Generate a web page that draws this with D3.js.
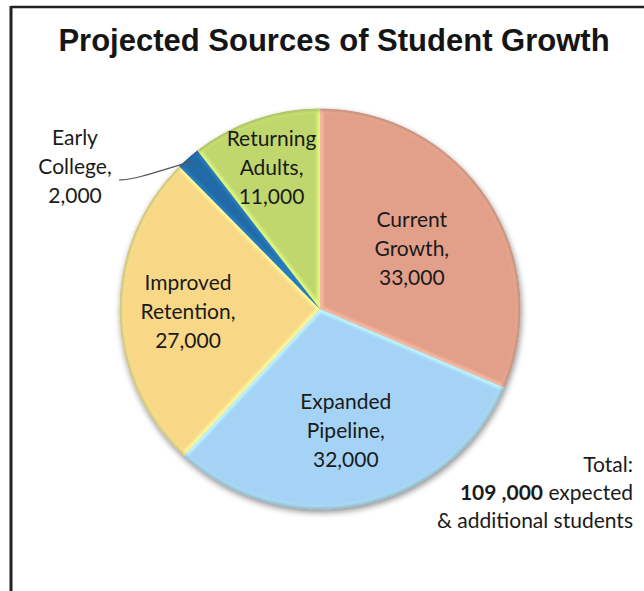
<!DOCTYPE html>
<html>
<head>
<meta charset="utf-8">
<script src="https://cdn.jsdelivr.net/npm/d3@7"></script>
<style>
  html, body { margin: 0; padding: 0; background: #fff; }
  svg { display: block; }
</style>
</head>
<body>
<svg id="chart" width="644" height="591"></svg>
<script>
// Sources of projected student growth, drawn clockwise from 12 o'clock
const categories = ["Current Growth", "Expanded Pipeline", "Improved Retention", "Early College", "Returning Adults"];
const labelLines = [["Current", "Growth,"], ["Expanded", "Pipeline,"], ["Improved", "Retention,"], ["Early", "College,"], ["Returning", "Adults,"]];
const values = [33000, 32000, 27000, 2000, 11000];
const colors = ["#E2A08A", "#A4D3F5", "#F8D887", "#216BA6", "#C0D76E"];
const totalValue = 109000;

const svg = d3.select("#chart");
const W = 644, H = 591;
const cx = 320, cy = 309, R = 200;
const fmt = d3.format(",");
const labelFont = "Lato, 'Open Sans', sans-serif";
const labelSize = 21;
const lineH = 29;
// how far out (fraction of the radius) each inside label sits, so it fits its slice
const labelRadius = [0.55, 0.62, 0.66, 0, 0.75];

const defs = svg.append("defs");

// soft shadow beneath the pie
const shadow = defs.append("filter").attr("id", "pieShadow")
  .attr("x", "-20%").attr("y", "-20%").attr("width", "140%").attr("height", "140%");
shadow.append("feGaussianBlur").attr("in", "SourceAlpha").attr("stdDeviation", 3).attr("result", "b");
shadow.append("feOffset").attr("in", "b").attr("dx", 1).attr("dy", 3).attr("result", "o");
shadow.append("feComponentTransfer").attr("in", "o").attr("result", "s")
  .append("feFuncA").attr("type", "linear").attr("slope", 0.45);
const m = shadow.append("feMerge");
m.append("feMergeNode").attr("in", "s");
m.append("feMergeNode").attr("in", "SourceGraphic");

// blur used for the rounded-bevel edge highlight
defs.append("filter").attr("id", "edgeBlur")
  .append("feGaussianBlur").attr("stdDeviation", 1.4);

// frame lines along the top and left
svg.append("line").attr("x1", 11).attr("y1", 7).attr("x2", W).attr("y2", 7)
  .attr("stroke", "#222").attr("stroke-width", 2.5);
svg.append("line").attr("x1", 11).attr("y1", 6).attr("x2", 11).attr("y2", H)
  .attr("stroke", "#222").attr("stroke-width", 3);

// title
svg.append("text")
  .attr("x", 334).attr("y", 51)
  .attr("text-anchor", "middle")
  .attr("font-family", "'Liberation Sans', Arial, sans-serif")
  .attr("font-weight", "bold")
  .attr("font-size", 31)
  .attr("fill", "#151515")
  .text("Projected Sources of Student Growth");

const pie = d3.pie().sort(null).value(d => d)(values);
const arc = d3.arc().innerRadius(0).outerRadius(R);

const g = svg.append("g").attr("transform", `translate(${cx},${cy})`);

const slices = g.append("g").attr("filter", "url(#pieShadow)");
slices.selectAll("path.slice")
  .data(pie)
  .join("path")
  .attr("class", "slice")
  .attr("d", arc)
  .attr("fill", (d, i) => colors[i])
  .attr("stroke", (d, i) => d3.color(colors[i]).darker(0.6))
  .attr("stroke-width", 0.8);

// bevel: lighter rim inside each slice, darker at the outer edge
pie.forEach((d, i) => {
  defs.append("clipPath").attr("id", "clip" + i)
    .append("path").attr("d", arc(d));
  const bevel = g.append("g").attr("clip-path", `url(#clip${i})`);
  bevel.append("path")
    .attr("d", arc(d))
    .attr("fill", "none")
    .attr("stroke", d3.color(colors[i]).brighter(0.5))
    .attr("stroke-width", 6)
    .attr("filter", "url(#edgeBlur)")
    .attr("opacity", 0.85);
  bevel.append("path")
    .attr("d", d3.arc().innerRadius(R - 2).outerRadius(R + 4)(d))
    .attr("fill", d3.color(colors[i]).darker(0.6))
    .attr("filter", "url(#edgeBlur)")
    .attr("opacity", 0.8);
});

// data labels inside the large slices
function drawLabel(sel, x, y, lines) {
  const t = sel.append("text")
    .attr("text-anchor", "middle")
    .attr("font-family", labelFont)
    .attr("font-size", labelSize)
    .attr("fill", "#1a1a1a");
  lines.forEach((s, k) => {
    t.append("tspan").attr("x", x).attr("y", y + (k - 1) * lineH + 8).text(s);
  });
}
pie.forEach((d, i) => {
  if (categories[i] === "Early College") return;
  const r = R * labelRadius[i];
  const [lx, ly] = d3.arc().innerRadius(r).outerRadius(r).centroid(d);
  drawLabel(g, lx, ly, labelLines[i].concat([fmt(values[i])]));
});

// the thin slice gets an outside label with a leader line
const ei = categories.indexOf("Early College");
const early = pie[ei];
const midA = (early.startAngle + early.endAngle) / 2;
const edge = [Math.sin(midA) * (R - 4), -Math.cos(midA) * (R - 4)];
const elx = 75 - cx, ely = 166 - cy;
drawLabel(g, elx, ely, labelLines[ei].concat([fmt(values[ei])]));
const lineStart = [elx + 44, ely + 14];
g.append("path")
  .attr("d", d3.line().curve(d3.curveBasis)([
    lineStart,
    [lineStart[0] + 16, lineStart[1] - 1],
    edge
  ]))
  .attr("fill", "none")
  .attr("stroke", "#555")
  .attr("stroke-width", 1.2);

// total note
const note = svg.append("text")
  .attr("text-anchor", "end")
  .attr("font-family", labelFont)
  .attr("font-size", labelSize)
  .attr("fill", "#1a1a1a");
note.append("tspan").attr("x", 633).attr("y", 472).text("Total:");
const l2 = note.append("tspan").attr("x", 633).attr("y", 500);
l2.append("tspan").attr("font-weight", "bold").text(fmt(totalValue).replace(",", " ,"));
l2.append("tspan").text(" expected");
note.append("tspan").attr("x", 633).attr("y", 528).text("& additional students");
</script>
</body>
</html>
